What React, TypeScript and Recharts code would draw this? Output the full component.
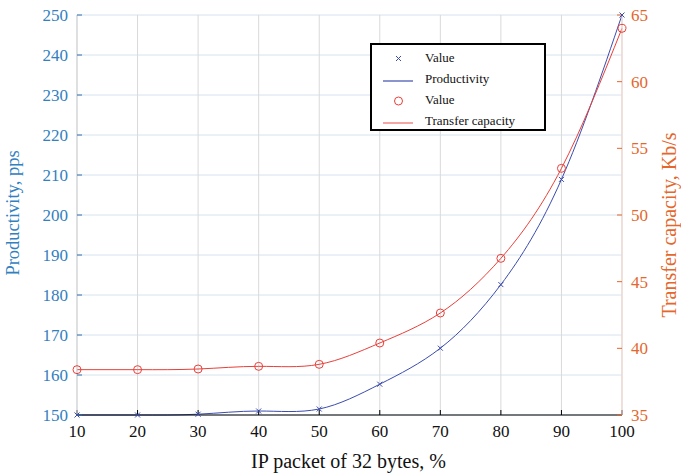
import React from "react";
import {
  LineChart,
  Line,
  XAxis,
  YAxis,
  CartesianGrid,
} from "recharts";

const packetShare = [10, 20, 30, 40, 50, 60, 70, 80, 90, 100];
const productivity = [150, 150, 150.2, 151, 151.5, 157.7, 166.7, 182.6, 208.9, 250];
const transferCapacity = [38.4, 38.4, 38.45, 38.65, 38.8, 40.4, 42.65, 46.75, 53.5, 64.0];

const xTicks = [10, 20, 30, 40, 50, 60, 70, 80, 90, 100];
const leftTicks = [150, 160, 170, 180, 190, 200, 210, 220, 230, 240, 250];
const rightTicks = [35, 40, 45, 50, 55, 60, 65];

const FONT = "'Liberation Serif', 'Times New Roman', serif";
const BLUE_LINE = "#3b4cad";
const RED_LINE = "#e8403a";
const BLUE_TEXT = "#3280c0";
const ORANGE_TEXT = "#e4672c";

const data = packetShare.map((x, i) => ({
  x,
  productivity: productivity[i],
  transfer: transferCapacity[i],
}));

const CrossDot = (props: any) => {
  const { cx, cy, index } = props;
  if (cx == null || cy == null) return <g key={index} />;
  const s = 2.5;
  return (
    <g key={`c${index}`}>
      <line x1={cx - s} y1={cy - s} x2={cx + s} y2={cy + s} stroke={BLUE_LINE} strokeWidth={1} />
      <line x1={cx - s} y1={cy + s} x2={cx + s} y2={cy - s} stroke={BLUE_LINE} strokeWidth={1} />
    </g>
  );
};

const CircleDot = (props: any) => {
  const { cx, cy, index } = props;
  if (cx == null || cy == null) return <g key={index} />;
  return <circle key={`o${index}`} cx={cx} cy={cy} r={4} fill="none" stroke={RED_LINE} strokeWidth={1} />;
};

const legendItems = [
  { label: "Value", kind: "cross", color: BLUE_LINE },
  { label: "Productivity", kind: "line", color: BLUE_LINE },
  { label: "Value", kind: "circle", color: RED_LINE },
  { label: "Transfer capacity", kind: "line", color: "#ee6a66" },
];

function LegendBox() {
  return (
    <div
      style={{
        position: "absolute",
        left: 370,
        top: 43,
        width: 176,
        height: 88,
        boxSizing: "border-box",
        border: "2px solid #000",
        background: "#fff",
        fontFamily: FONT,
        fontSize: 13,
        color: "#111",
      }}
    >
      {legendItems.map((it, i) => (
        <div
          key={i}
          style={{
            position: "absolute",
            left: 0,
            top: 3 + i * 21,
            height: 20,
            width: "100%",
            display: "flex",
            alignItems: "center",
          }}
        >
          <svg width={53} height={20} style={{ flex: "none" }}>
            {it.kind === "cross" && (
              <g>
                <line x1={24} y1={8} x2={29} y2={13} stroke={it.color} />
                <line x1={24} y1={13} x2={29} y2={8} stroke={it.color} />
              </g>
            )}
            {it.kind === "circle" && <circle cx={26.5} cy={11} r={4} fill="none" stroke={it.color} />}
            {it.kind === "line" && <line x1={11} y1={12} x2={41} y2={12} stroke={it.color} strokeWidth={1.2} />}
          </svg>
          <span style={{ whiteSpace: "nowrap" }}>{it.label}</span>
        </div>
      ))}
    </div>
  );
}

export default function App() {
  return (
    <div style={{ position: "absolute", left: 0, top: 0, width: 681, height: 476, background: "#fff" }}>
      <LineChart width={681} height={476} data={data} margin={{ top: 15, right: 0, bottom: 0, left: 0 }}>
        <CartesianGrid yAxisId="left" xAxisId="bottom" stroke="#d6e3ee" vertical={false} />
        <CartesianGrid yAxisId="left" xAxisId="bottom" stroke="#d9d9d9" horizontal={false} />
        <XAxis
          xAxisId="bottom"
          dataKey="x"
          type="number"
          domain={[10, 100]}
          ticks={xTicks}
          height={61}
          axisLine={{ stroke: "#000", strokeWidth: 1.2 }}
          tickLine={{ stroke: "#000" }}
          tickSize={-5}
          tickMargin={15}
          tick={{ fill: "#111", fontSize: 17, fontFamily: FONT }}
          label={{
            content: (p: any) => {
              const vb = p.viewBox;
              return (
                <text x={vb.x + vb.width / 2 - 1} y={468} textAnchor="middle" fontSize={20} fontFamily={FONT} fill="#111">
                  IP packet of 32 bytes, %
                </text>
              );
            },
          }}
        />
        <XAxis
          xAxisId="top"
          dataKey="x"
          type="number"
          orientation="top"
          domain={[10, 100]}
          ticks={xTicks}
          height={0}
          axisLine={{ stroke: "#000", strokeWidth: 1.2 }}
          tickLine={{ stroke: "#000" }}
          tickSize={-5}
          tick={false}
        />
        <YAxis
          yAxisId="left"
          domain={[150, 250]}
          ticks={leftTicks}
          width={77}
          axisLine={{ stroke: "#cfd3d8" }}
          tickLine={{ stroke: "#2f6fae" }}
          tickSize={-5}
          tickMargin={14}
          tick={{ fill: BLUE_TEXT, fontSize: 17, fontFamily: FONT }}
          label={{
            content: (p: any) => {
              const vb = p.viewBox;
              const cy = vb.y + vb.height / 2 - 2;
              return (
                <text
                  x={19}
                  y={cy}
                  transform={`rotate(-90, 19, ${cy})`}
                  textAnchor="middle"
                  fontSize={18.5}
                  fontFamily={FONT}
                  fill={BLUE_TEXT}
                >
                  Productivity, pps
                </text>
              );
            },
          }}
        />
        <YAxis
          yAxisId="right"
          orientation="right"
          domain={[35, 65]}
          ticks={rightTicks}
          width={59}
          axisLine={{ stroke: "#f1d3ca" }}
          tickLine={{ stroke: ORANGE_TEXT }}
          tickSize={-5}
          tickMargin={14}
          tick={{ fill: ORANGE_TEXT, fontSize: 17, fontFamily: FONT, textAnchor: "start" }}
          label={{
            content: (p: any) => {
              const vb = p.viewBox;
              const cy = vb.y + vb.height / 2 + 10;
              return (
                <text
                  x={676}
                  y={cy}
                  transform={`rotate(-90, 676, ${cy})`}
                  textAnchor="middle"
                  fontSize={20}
                  fontFamily={FONT}
                  fill={ORANGE_TEXT}
                >
                  Transfer capacity, Kb/s
                </text>
              );
            },
          }}
        />
        <Line
          xAxisId="bottom"
          yAxisId="left"
          type="natural"
          dataKey="productivity"
          stroke={BLUE_LINE}
          strokeWidth={1}
          dot={CrossDot}
          activeDot={false}
          isAnimationActive={false}
        />
        <Line
          xAxisId="bottom"
          yAxisId="right"
          type="natural"
          dataKey="transfer"
          stroke={RED_LINE}
          strokeWidth={1}
          dot={CircleDot}
          activeDot={false}
          isAnimationActive={false}
        />
      </LineChart>
      <LegendBox />
    </div>
  );
}
